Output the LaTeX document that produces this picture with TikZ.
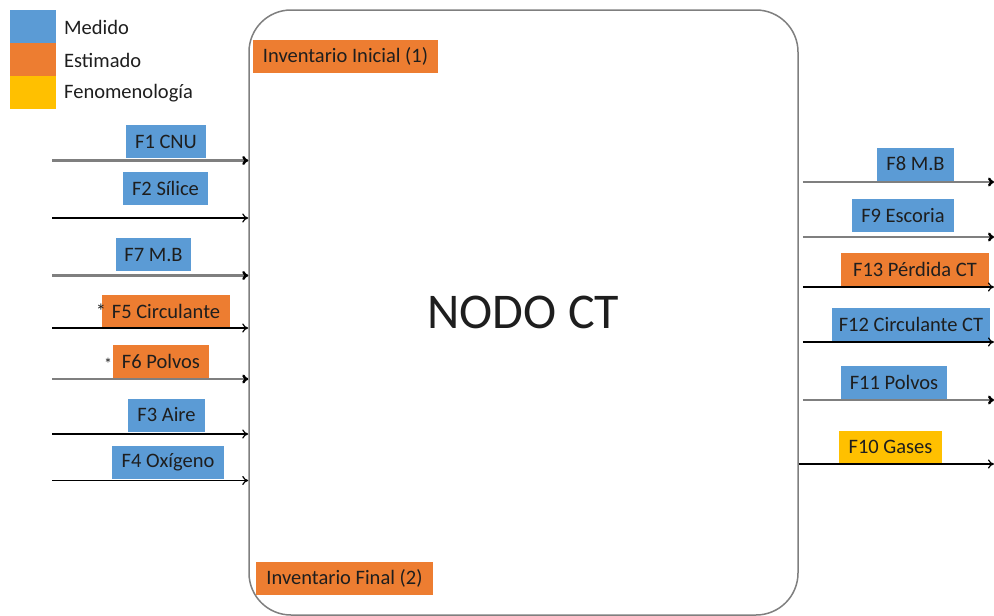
\documentclass[tikz,border=0pt]{standalone}
\usepackage{fontspec}
\setmainfont{Carlito}
\usetikzlibrary{arrows.meta}
\definecolor{medblue}{HTML}{5B9BD5}
\definecolor{estorange}{HTML}{ED7D31}
\definecolor{fenyellow}{HTML}{FFC000}
\definecolor{linegray}{HTML}{7F7F7F}
\definecolor{txt}{HTML}{1E1E1E}
\begin{document}
\begin{tikzpicture}[x=1pt,y=-1pt,
  lab/.style={minimum height=33, inner sep=0, text=txt, font=\fontsize{20.5}{24}\selectfont},
  blu/.style={lab, fill=medblue},
  ora/.style={lab, fill=estorange},
  yel/.style={lab, fill=fenyellow},
  sq/.style={minimum width=46, minimum height=33, inner sep=0},
  legtxt/.style={anchor=west, inner sep=0, text=txt, font=\fontsize{20.5}{24}\selectfont},
  tip/.style={-{To[length=6,width=9,color=black]}},
  garrow/.style={tip, draw=linegray, line width=2.4},
  barrow/.style={tip, draw=black, line width=1.2},
  star/.style={inner sep=0, anchor=base, text=txt}
]
\useasboundingbox (0,0) rectangle (994,616);

% legend
\node[sq, fill=medblue] (lm) at (33,26.5) {};
\node[sq, fill=estorange] (le) at (33,59.5) {};
\node[sq, fill=fenyellow] (lf) at (33,92.5) {};
\node[legtxt] (tm) at (64,27) {Medido};
\node[legtxt] (te) at (64,60) {Estimado};
\node[legtxt] (tf) at (64,93) {Fenomenología};

% main node
\node[draw=linegray, line width=1.5, rounded corners=42, minimum width=549, minimum height=605, inner sep=0, text=txt, font=\fontsize{50}{60}\selectfont] (ct) at (523.5,312.5) {NODO CT};

\node[ora, minimum width=185] (ii) at (345.5,56.5) {Inventario Inicial (1)};
\node[ora, minimum width=177] (if) at (344.5,578) {Inventario Final (2)};

% left labels
\node[blu, minimum width=80] (f1) at (166,141.5) {F1 CNU};
\node[blu, minimum width=85] (f2) at (165.5,188.5) {F2 Sílice};
\node[blu, minimum width=75] (f7) at (153.5,254.5) {F7 M.B};
\node[ora, minimum width=128] (f5) at (166,311) {F5 Circulante};
\node[ora, minimum width=96] (f6) at (161,361.5) {F6 Polvos};
\node[blu, minimum width=77] (f3) at (166.5,415) {F3 Aire};
\node[blu, minimum width=112] (f4) at (168,462) {F4 Oxígeno};
\node[star, font=\fontsize{20.5}{24}\selectfont] (s5) at (101,318) {*};
\node[star, font=\fontsize{16}{18}\selectfont] (s6) at (108,369) {*};

% right labels
\node[blu, minimum width=77] (f8) at (915.5,164) {F8 M.B};
\node[blu, minimum width=102] (f9) at (903,215.5) {F9 Escoria};
\node[ora, minimum width=148] (f13) at (915,269.5) {F13 Pérdida CT};
\node[blu, minimum width=158] (f12) at (911,324.5) {F12 Circulante CT};
\node[blu, minimum width=106] (f11) at (894,382.5) {F11 Polvos};
\node[yel, minimum width=103] (f10) at (890.5,447) {F10 Gases};

% left arrows
\coordinate (a1) at (52,160.5);
\coordinate (a2) at (52,218);
\coordinate (a7) at (52,275.5);
\coordinate (a5) at (52,328);
\coordinate (a6) at (52,379);
\coordinate (a3) at (52,434);
\coordinate (a4) at (52,480.5);
\draw[garrow] (a1) -- (a1 -| ct.west);
\draw[barrow] (a2) -- (a2 -| ct.west);
\draw[garrow] (a7) -- (a7 -| ct.west);
\draw[barrow] (a5) -- (a5 -| ct.west);
\draw[garrow] (a6) -- (a6 -| ct.west);
\draw[barrow] (a3) -- (a3 -| ct.west);
\draw[barrow] (a4) -- (a4 -| ct.west);

% right arrows
\coordinate (b8) at (994,182);
\coordinate (b9) at (994,237);
\coordinate (b13) at (994,287);
\coordinate (b12) at (994,342);
\coordinate (b11) at (994,400);
\coordinate (b10) at (994,464);
\draw[garrow] ([xshift=4]ct.east |- b8) -- (b8);
\draw[garrow] ([xshift=4]ct.east |- b9) -- (b9);
\draw[barrow] ([xshift=4]ct.east |- b13) -- (b13);
\draw[barrow] ([xshift=4]ct.east |- b12) -- (b12);
\draw[garrow] ([xshift=4]ct.east |- b11) -- (b11);
\draw[barrow] (ct.east |- b10) -- (b10);
\end{tikzpicture}
\end{document}
